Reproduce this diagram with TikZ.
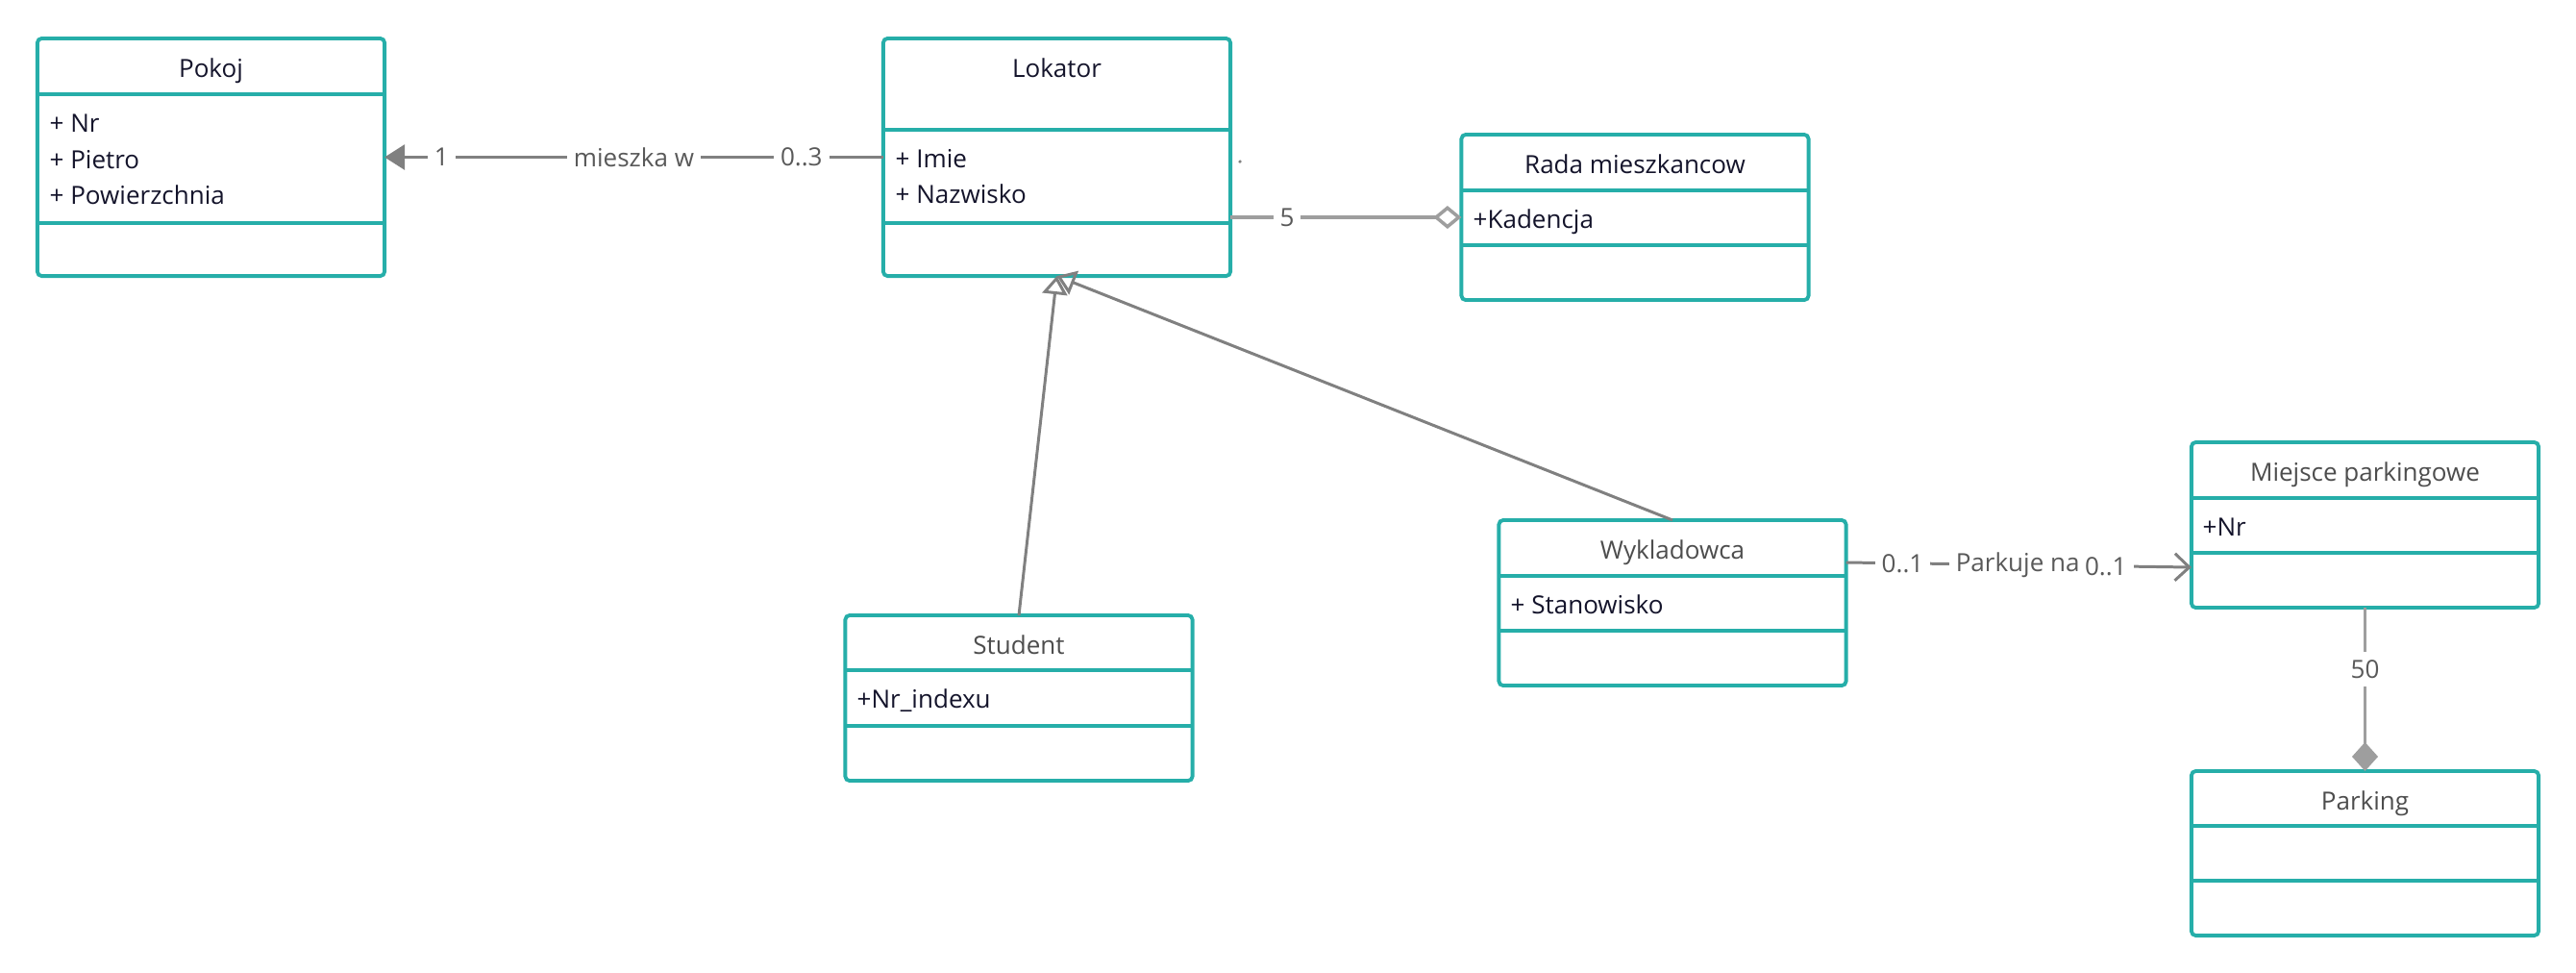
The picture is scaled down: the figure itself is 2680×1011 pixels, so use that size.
\documentclass[tikz,border=0pt]{standalone}
\usepackage{fontspec}
\setmainfont{Open Sans}
\usetikzlibrary{arrows.meta}
\definecolor{umlteal}{HTML}{26AEA9}
\definecolor{navy}{HTML}{14142B}
\definecolor{titlegray}{HTML}{4D4D4D}
\definecolor{linegray}{HTML}{808080}
\definecolor{partgray}{HTML}{9E9E9E}
\definecolor{lblgray}{HTML}{595959}
\newcommand{\fsz}{\fontsize{7.4pt}{9pt}\selectfont}

\begin{document}
\begin{tikzpicture}[x=0.01cm,y=-0.01cm,
    box/.style={draw=umlteal, line width=1.1pt, rounded corners=1.3pt, minimum width=3.61cm, inner sep=0pt, outer sep=0pt},
    div/.style={draw=umlteal, line width=1.1pt},
    ttl/.style={font=\fsz, text=navy, anchor=base, inner sep=0pt},
    ttlg/.style={ttl, text=titlegray},
    attr/.style={font=\fsz, text=navy, anchor=base west, inner sep=0pt},
    lbl/.style={font=\fsz, text=lblgray, fill=white, inner xsep=0.07cm, inner ysep=0.5pt},
    assoc/.style={draw=linegray, line width=0.85pt},
    partline/.style={draw=partgray, line width=1pt}]
        \useasboundingbox (0,0) rectangle (2680,1011);

        % Pokoj
        \node[box, minimum height=2.47cm] (pokoj) at (219.5,163.5) {};
        \draw[div] (pokoj.west |- 0,98) -- (pokoj.east |- 0,98);
        \draw[div] (pokoj.west |- 0,232) -- (pokoj.east |- 0,232);
        \node[ttl] (pokojT) at (219.5,80) {Pokoj};
        \node[attr] (pokojA1) at (51,137) {+ Nr};
        \node[attr] (pokojA2) at (51,175) {+ Pietro};
        \node[attr] (pokojA3) at (51,212) {+ Powierzchnia};

        % Lokator
        \node[box, minimum height=2.47cm] (lok) at (1099.5,163.5) {};
        \draw[div] (lok.west |- 0,135) -- (lok.east |- 0,135);
        \draw[div] (lok.west |- 0,232) -- (lok.east |- 0,232);
        \node[ttl] (lokT) at (1099.5,80) {Lokator};
        \node[attr] (lokA1) at (931,174) {+ Imie};
        \node[attr] (lokA2) at (931,211) {+ Nazwisko};
        \fill[linegray] (1290,168) circle (0.5pt);

        % Rada mieszkancow
        \node[box, minimum height=1.72cm] (rada) at (1701,226) {};
        \draw[div] (rada.west |- 0,198) -- (rada.east |- 0,198);
        \draw[div] (rada.west |- 0,255) -- (rada.east |- 0,255);
        \node[ttl] (radaT) at (1701,180) {Rada mieszkancow};
        \node[attr] (radaA1) at (1532,237) {+Kadencja};

        % Student
        \node[box, minimum height=1.72cm] (stu) at (1060,726) {};
        \draw[div] (stu.west |- 0,697) -- (stu.east |- 0,697);
        \draw[div] (stu.west |- 0,755) -- (stu.east |- 0,755);
        \node[ttlg] (stuT) at (1060,680) {Student};
        \node[attr] (stuA1) at (891,736) {+Nr\_indexu};

        % Wykladowca
        \node[box, minimum height=1.72cm] (wyk) at (1740,627) {};
        \draw[div] (wyk.west |- 0,599) -- (wyk.east |- 0,599);
        \draw[div] (wyk.west |- 0,656) -- (wyk.east |- 0,656);
        \node[ttlg] (wykT) at (1740,581) {Wykladowca};
        \node[attr] (wykA1) at (1571,638) {+ Stanowisko};

        % Miejsce parkingowe
        \node[box, minimum height=1.72cm] (mp) at (2460.5,546) {};
        \draw[div] (mp.west |- 0,518) -- (mp.east |- 0,518);
        \draw[div] (mp.west |- 0,575) -- (mp.east |- 0,575);
        \node[ttlg] (mpT) at (2460.5,500) {Miejsce parkingowe};
        \node[attr] (mpA1) at (2291,557) {+Nr};

        % Parking
        \node[box, minimum height=1.71cm] (park) at (2460.5,887.5) {};
        \draw[div] (park.west |- 0,859) -- (park.east |- 0,859);
        \draw[div] (park.west |- 0,916) -- (park.east |- 0,916);
        \node[ttlg] (parkT) at (2460.5,842) {Parking};

        % connectors
        \draw[assoc, -{Triangle[length=0.21cm, width=0.26cm]}] (lok.west) -- (pokoj.east)
            node[lbl, pos=.164] (lblA) {0..3}
            node[lbl, pos=.5] (lblB) {mieszka w}
            node[lbl, pos=.886] (lblC) {1};

        \draw[partline, -{Diamond[open, length=0.29cm, width=0.24cm]}] (lok.east |- rada.west) -- (rada.west)
            node[lbl, pos=.245] (lblD) {5};

        \draw[assoc, -{Triangle[open, length=0.19cm, width=0.26cm]}] (stu.north) -- (lok.south);
        \draw[assoc, -{Triangle[open, length=0.19cm, width=0.26cm]}] (wyk.north) -- (lok.south);

        \draw[assoc, -{Straight Barb[length=0.15cm, width=0.28cm]}] (wyk.east |- 0,585) -- (mp.west |- 0,590)
            node[lbl, pos=.164] (lblE) {0..1}
            node[lbl, pos=.497] (lblF) {Parkuje na}
            node[lbl, pos=.752] (lblG) {0..1};

        \draw[partline, -{Diamond[length=0.3cm, width=0.27cm]}] (mp.south) -- (park.north)
            node[lbl, pos=.376, inner xsep=1pt, inner ysep=0.08cm] (lblH) {50};

    \end{tikzpicture}
\end{document}
